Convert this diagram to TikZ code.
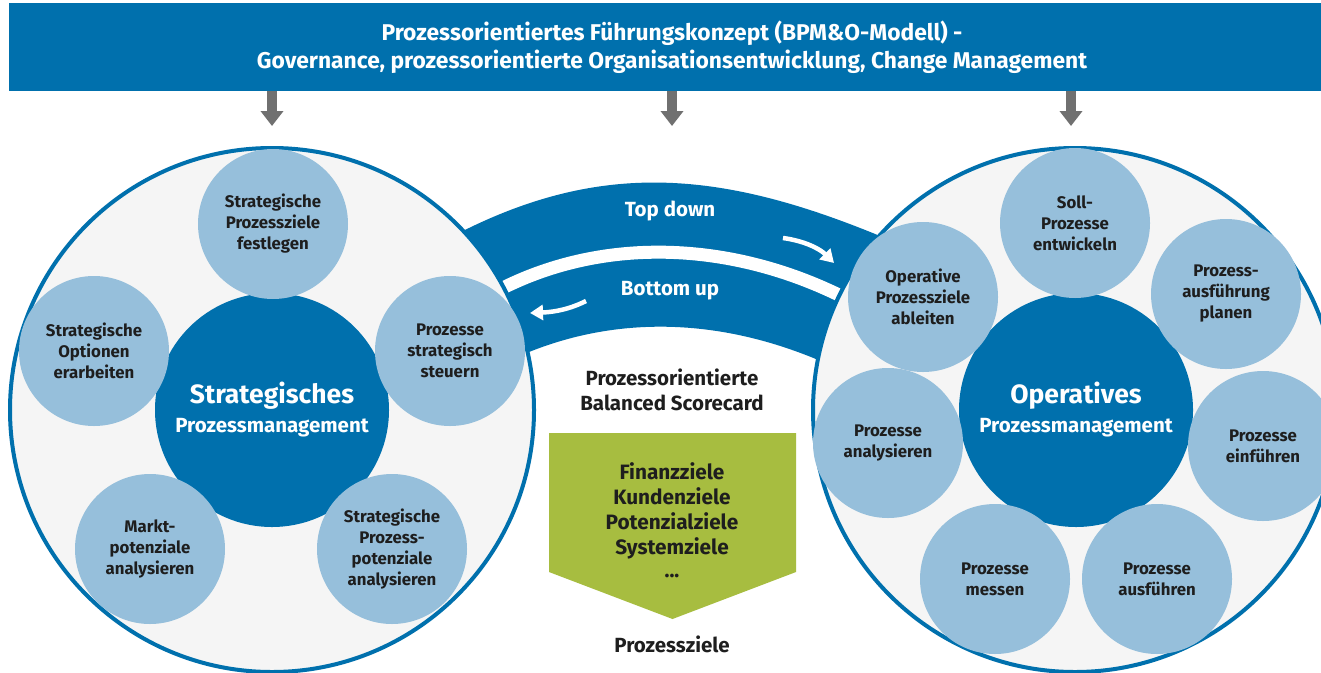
\documentclass[tikz,border=0pt]{standalone}
\usepackage{fontspec}
\setmainfont{Fira Sans}
\usetikzlibrary{arrows.meta}
\definecolor{bpmblue}{HTML}{0070AD}
\definecolor{lightblue}{HTML}{96BFDB}
\definecolor{bggray}{HTML}{F5F5F5}
\definecolor{bpmgreen}{HTML}{A7BD40}
\definecolor{arrowgray}{HTML}{707070}
\definecolor{txt}{HTML}{1E1E1E}
\begin{document}
\begin{tikzpicture}[x=1pt,y=-1pt,
  bigcirc/.style={circle, draw=bpmblue, line width=4pt, fill=bggray, minimum size=524pt, inner sep=0pt},
  core/.style={circle, fill=bpmblue, minimum size=234pt, inner sep=0pt, text=white, align=center,
     font=\fontsize{20.5}{29}\selectfont\bfseries},
  sub/.style={circle, fill=lightblue, minimum size=150pt, inner sep=0pt, text=txt, align=center,
     font=\fontsize{16.8}{21}\selectfont\bfseries},
  label/.style={text=txt, align=center, font=\fontsize{20.5}{25}\selectfont\bfseries},
  bandtext/.style={text=white, font=\fontsize{20.5}{22}\selectfont\bfseries},
  downarrow/.style={draw=arrowgray, line width=10pt, -{Triangle[width=22pt,length=15pt]}},
  whitearrow/.style={draw=white, line width=4.5pt, -{Triangle[width=15pt,length=13pt]}}
]
\useasboundingbox (0,0) rectangle (1321,672);
\fill[white] (0,0) rectangle (1321,672);

% header
\node[fill=bpmblue, minimum width=1326pt, minimum height=88pt, inner sep=0pt, text=white, align=center,
  font=\fontsize{22.8}{28}\selectfont\bfseries] (header) at (672,47)
  {Prozessorientiertes Führungskonzept (BPM\&O-Modell) -\\Governance, prozessorientierte Organisationsentwicklung, Change Management};

\coordinate (t1) at (272,126);
\coordinate (t2) at (672,126);
\coordinate (t3) at (1071,126);
\foreach \t in {t1,t2,t3} \draw[downarrow] (header.south -| \t) -- (\t);

% band
\fill[bpmblue] (455,235) .. controls (600,160) and (720,170) .. (880,236)
  -- (832,366) .. controls (720,315) and (610,315) .. (515,358) -- cycle;
\draw[white, line width=13pt] (495,292) .. controls (600,236) and (730,240) .. (845,298);

% big circles
\node[bigcirc] (left) at (272,410) {};
\node[bigcirc] (right) at (1075,410) {};

% left cluster
\node[core] (strat) at (272,410) {{\fontsize{26.5}{29}\selectfont Strategisches}\\Prozessmanagement};
\node[sub] (s1) at (273,224) {Strategische\\Prozessziele\\festlegen};
\node[sub] (s2) at (94,351) {Strategische\\Optionen\\erarbeiten};
\node[sub] (s3) at (450,351) {Prozesse\\strategisch\\steuern};
\node[sub] (s4) at (150,549) {Markt-\\potenziale\\analysieren};
\node[sub] (s5) at (392,549) {Strategische\\Prozess-\\potenziale\\analysieren};

% right cluster
\node[core] (oper) at (1076,410) {{\fontsize{26.5}{29}\selectfont Operatives}\\Prozessmanagement};
\node[sub] (o1) at (1075,223) {Soll-\\Prozesse\\entwickeln};
\node[sub] (o2) at (923,297) {Operative\\Prozessziele\\ableiten};
\node[sub] (o3) at (1226,294) {Prozess-\\ausführung\\planen};
\node[sub] (o4) at (888,443) {Prozesse\\analysieren};
\node[sub] (o5) at (1263,446) {Prozesse\\einführen};
\node[sub] (o6) at (995,579) {Prozesse\\messen};
\node[sub] (o7) at (1157,579) {Prozesse\\ausführen};

% band labels and arrows
\node[bandtext] (td) at (670,211) {Top down};
\node[bandtext] (bu) at (670,291) {Bottom up};
\coordinate (tda) at (783,238);
\coordinate (tdb) at (834,263);
\draw[whitearrow] (tda) .. controls (805,241) and (820,249) .. (tdb);
\coordinate (bua) at (586,301);
\coordinate (bub) at (530,313);
\draw[whitearrow] (bua) .. controls (570,309) and (555,312) .. (bub);

% balanced scorecard
\node[label] (bsc) at (672,390) {Prozessorientierte\\Balanced Scorecard};
\fill[bpmgreen] (549,433) -- (796,433) -- (796,572) -- (672.5,619) -- (549,572) -- cycle;
\node[label, font=\fontsize{20.8}{25}\selectfont\bfseries] (goals) at (672,510.5) {Finanzziele\\Kundenziele\\Potenzialziele\\Systemziele};
\node[label] (dots) at (672,576) {...};
\node[label] (pz) at (672,644) {Prozessziele};
\end{tikzpicture}
\end{document}
